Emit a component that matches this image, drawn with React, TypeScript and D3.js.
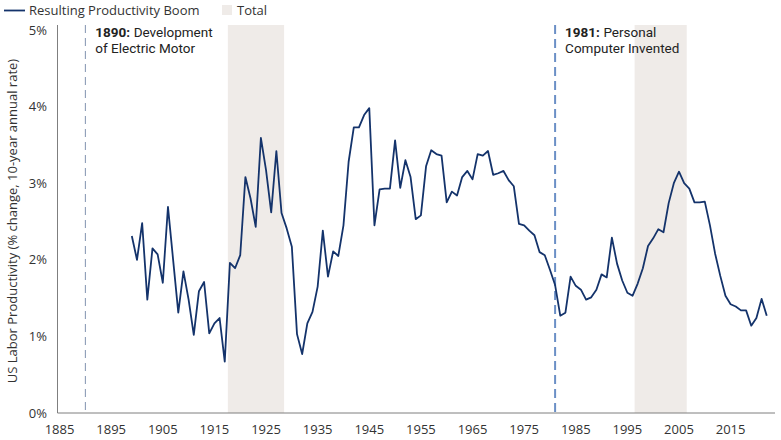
import React, { useEffect, useRef } from 'react';
import * as d3 from 'd3';

// 10-year annual rate of US labor productivity growth, %, 1899-2022
const startYear = 1899;
const productivity = [
    2.31, 2.0, 2.48, 1.48, 2.15, 2.07, 1.7, 2.69, 2.0, 1.31,
    1.85, 1.48, 1.02, 1.59, 1.71, 1.04, 1.17, 1.24, 0.67, 1.96,
    1.89, 2.06, 3.08, 2.8, 2.43, 3.59, 3.17, 2.62, 3.42, 2.61,
    2.41, 2.17, 1.03, 0.77, 1.17, 1.32, 1.65, 2.38, 1.78, 2.11,
    2.05, 2.45, 3.28, 3.73, 3.73, 3.89, 3.98, 2.45, 2.92, 2.93,
    2.93, 3.56, 2.94, 3.3, 3.08, 2.53, 2.58, 3.22, 3.43, 3.38,
    3.36, 2.75, 2.89, 2.84, 3.08, 3.16, 3.05, 3.38, 3.36, 3.42,
    3.11, 3.13, 3.16, 3.04, 2.96, 2.47, 2.45, 2.38, 2.32, 2.1,
    2.06, 1.87, 1.67, 1.27, 1.31, 1.78, 1.66, 1.61, 1.48, 1.51,
    1.61, 1.81, 1.77, 2.29, 1.95, 1.73, 1.57, 1.53, 1.69, 1.89,
    2.18, 2.28, 2.4, 2.36, 2.74, 3.0, 3.15, 3.0, 2.93, 2.75,
    2.75, 2.76, 2.45, 2.08, 1.79, 1.53, 1.42, 1.39, 1.34, 1.34,
    1.14, 1.24, 1.49, 1.27,
];
const years = d3.range(startYear, startYear + productivity.length);

// shaded "Total" periods
const boomPeriods: [number, number][] = [
    [1917.6, 1928.5],
    [1996.4, 2006.5],
];

const xTicks = [1885, 1895, 1905, 1915, 1925, 1935, 1945, 1955, 1965, 1975, 1985, 1995, 2005, 2015];
const yTicks = [0, 1, 2, 3, 4, 5];

const events = [
    { year: 1890, bold: '1890:', rest: 'Development', line2: 'of Electric Motor', strong: false },
    { year: 1981, bold: '1981:', rest: 'Personal', line2: 'Computer Invented', strong: true },
];

const FONT = '"Open Sans", sans-serif';
const NOTE_FONT = 'Roboto, sans-serif';
const NAVY = '#14336b';
const BAND = '#efebe8';

const App: React.FC = () => {
    const svgRef = useRef<SVGSVGElement | null>(null);
    const width = 781;
    const height = 440;

    useEffect(() => {
        const svg = d3.select(svgRef.current);
        svg.selectAll('*').remove();

        const left = 57.5;
        const right = 775;
        const top = 25;
        const bottom = 413;

        const x = d3.scaleLinear().domain([1884.6, 2023.6]).range([left, right]);
        const y = d3.scaleLinear().domain([0, 5]).range([bottom, 30]);

        // shaded bands
        svg.append('g')
            .selectAll('rect')
            .data(boomPeriods)
            .join('rect')
            .attr('x', (d) => x(d[0]))
            .attr('width', (d) => x(d[1]) - x(d[0]))
            .attr('y', top)
            .attr('height', bottom - top)
            .attr('fill', BAND);

        // event lines
        svg.append('g')
            .selectAll('line')
            .data(events)
            .join('line')
            .attr('x1', (d) => x(d.year))
            .attr('x2', (d) => x(d.year))
            .attr('y1', top)
            .attr('y2', bottom)
            .attr('stroke', (d) => (d.strong ? '#6b8fc6' : '#8193b0'))
            .attr('stroke-width', (d) => (d.strong ? 2 : 1))
            .attr('stroke-dasharray', (d) => (d.strong ? '9,5' : '8,5'));

        // event notes: bold year, then the rest measured off its width
        events.forEach((ev) => {
            const g = svg.append('g')
                .attr('font-family', NOTE_FONT)
                .attr('font-size', 13.5)
                .attr('fill', '#222');
            const x0 = x(ev.year) + 10;
            const b = g.append('text')
                .attr('x', x0)
                .attr('y', 37)
                .attr('font-weight', 700)
                .text(ev.bold);
            const bw = (b.node() as SVGTextElement).getComputedTextLength();
            g.append('text')
                .attr('x', x0 + bw + 3.5)
                .attr('y', 37)
                .text(ev.rest);
            g.append('text')
                .attr('x', x0)
                .attr('y', 53)
                .text(ev.line2);
        });

        // axes
        svg.append('line')
            .attr('x1', left).attr('x2', left)
            .attr('y1', top).attr('y2', bottom)
            .attr('stroke', '#7f7f7f');
        svg.append('line')
            .attr('x1', left).attr('x2', right)
            .attr('y1', bottom).attr('y2', bottom)
            .attr('stroke', '#7f7f7f');

        svg.append('g')
            .selectAll('text')
            .data(yTicks)
            .join('text')
            .attr('x', 47)
            .attr('y', (d) => y(d))
            .attr('dy', '0.35em')
            .attr('text-anchor', 'end')
            .attr('font-family', FONT)
            .attr('font-size', 13)
            .attr('fill', '#333')
            .text((d) => `${d}%`);

        svg.append('g')
            .selectAll('text')
            .data(xTicks)
            .join('text')
            .attr('x', (d) => x(d))
            .attr('y', 429)
            .attr('dy', '0.35em')
            .attr('text-anchor', 'middle')
            .attr('font-family', FONT)
            .attr('font-size', 13)
            .attr('fill', '#333')
            .text((d) => d);

        svg.append('text')
            .attr('transform', `translate(17, 221) rotate(-90)`)
            .attr('text-anchor', 'middle')
            .attr('font-family', FONT)
            .attr('font-size', 13)
            .attr('fill', '#333')
            .text('US Labor Productivity (% change, 10-year annual rate)');

        // main line
        const line = d3.line<number>()
            .x((_, i) => x(years[i]))
            .y((d) => y(d));
        svg.append('path')
            .datum(productivity)
            .attr('d', line)
            .attr('fill', 'none')
            .attr('stroke', NAVY)
            .attr('stroke-width', 1.8)
            .attr('stroke-linejoin', 'round');

        // legend
        const legend = svg.append('g').attr('font-family', FONT).attr('font-size', 13).attr('fill', '#333');
        legend.append('line')
            .attr('x1', 4).attr('x2', 25)
            .attr('y1', 10.5).attr('y2', 10.5)
            .attr('stroke', NAVY)
            .attr('stroke-width', 1.8);
        legend.append('text').attr('x', 29).attr('y', 10.5).attr('dy', '0.35em').text('Resulting Productivity Boom');
        legend.append('rect').attr('x', 222).attr('y', 5).attr('width', 10).attr('height', 10).attr('fill', BAND);
        legend.append('text').attr('x', 237).attr('y', 10.5).attr('dy', '0.35em').text('Total');
    }, []);

    return (
        <svg
            ref={svgRef}
            width={width}
            height={height}
            style={{ position: 'absolute', left: 0, top: 0, background: '#fff' }}
        ></svg>
    );
};

export default App;
